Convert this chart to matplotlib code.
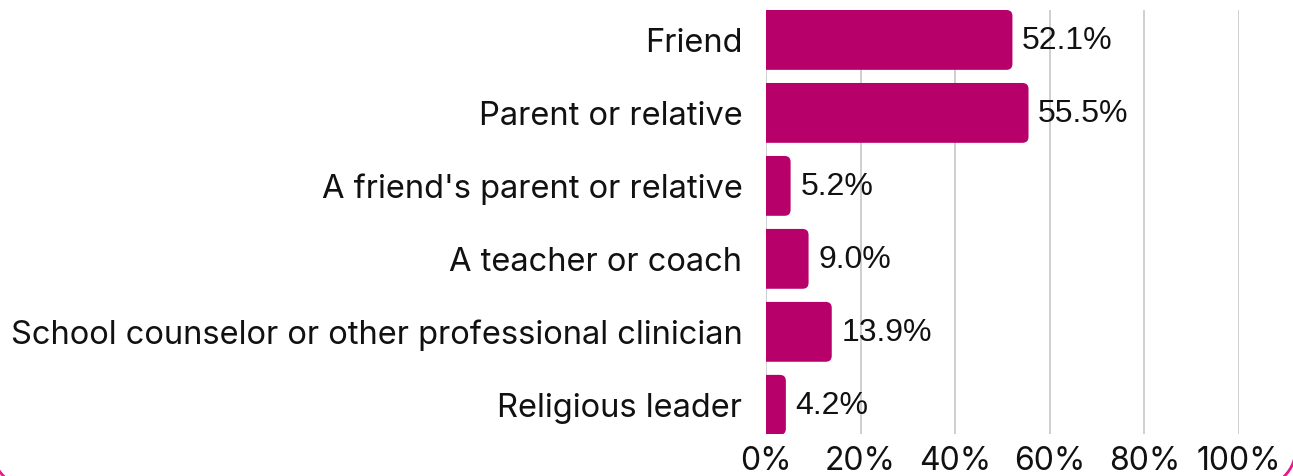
import matplotlib

matplotlib.use("Agg")

import matplotlib.pyplot as plt
from matplotlib.patches import Arc, FancyBboxPatch
from matplotlib.ticker import FuncFormatter

categories = [
    "Friend",
    "Parent or relative",
    "A friend's parent or relative",
    "A teacher or coach",
    "School counselor or other professional clinician",
    "Religious leader",
]
values = [52.1, 55.5, 5.2, 9.0, 13.9, 4.2]
x_ticks = [0, 20, 40, 60, 80, 100]

BAR_COLOR = "#B8006B"
GRID_COLOR = "#CCCCCC"
FRAME_PINK = "#E8198B"
LABEL_FONT = "Inter"
VALUE_FONT = "Liberation Sans"
W, H = 1293, 476

fig = plt.figure(figsize=(W / 100, H / 100), dpi=100)
fig.patch.set_facecolor("white")

# full-figure overlay in pixel units for the pink card frame
frame_ax = fig.add_axes([0, 0, 1, 1], zorder=0)
frame_ax.set_xlim(0, W)
frame_ax.set_ylim(H, 0)
frame_ax.axis("off")
r = 40
left, right, bottom = -8, W + 3, H + 12
for cx, (t1, t2) in [(left + r, (90, 180)), (right - r, (0, 90))]:
    frame_ax.add_patch(
        Arc((cx, bottom - r), 2 * r, 2 * r, theta1=t1, theta2=t2,
            color=FRAME_PINK, linewidth=2)
    )

ax = fig.add_axes([766 / W, 1 - 434 / H, (1239 - 766) / W, 424 / H], zorder=1)
ax.set_facecolor("none")

ax.set_xlim(0, 100)
ax.set_ylim(len(categories) - 0.6, -0.41)

bar_h = 0.82
px_x = (1239 - 766) / 100.0
px_y = 424 / (len(categories) - 0.6 + 0.41)
radius = 6 / px_x
aspect = (6 / px_y) / radius

for i, v in enumerate(values):
    patch = FancyBboxPatch(
        (-5, i - bar_h / 2),
        v + 5,
        bar_h,
        boxstyle=f"round,pad=0,rounding_size={radius}",
        mutation_aspect=aspect,
        facecolor=BAR_COLOR,
        edgecolor="none",
        zorder=3,
    )
    ax.add_patch(patch)
    ax.annotate(
        f"{v:.1f}%",
        (v, i),
        xytext=(7, -1),
        textcoords="offset points",
        ha="left",
        va="center",
        fontsize=23,
        family=VALUE_FONT,
        color="#111111",
        zorder=5,
    )

ax.set_yticks(range(len(categories)))
ax.set_yticklabels(categories, family=LABEL_FONT, fontsize=23.5, color="#111111")
ax.set_xticks(x_ticks)
ax.xaxis.set_major_formatter(FuncFormatter(lambda v, _: f"{v:.0f}%"))
for lbl in ax.get_xticklabels():
    lbl.set_family(LABEL_FONT)
ax.tick_params(axis="x", length=0, pad=9, labelsize=23, colors="#111111")
ax.tick_params(axis="y", length=0, pad=17)

ax.grid(axis="x", color=GRID_COLOR, linewidth=1.3, zorder=0)
ax.set_axisbelow(True)
for spine in ax.spines.values():
    spine.set_visible(False)

fig.savefig("out.png", dpi=100, facecolor="white")
